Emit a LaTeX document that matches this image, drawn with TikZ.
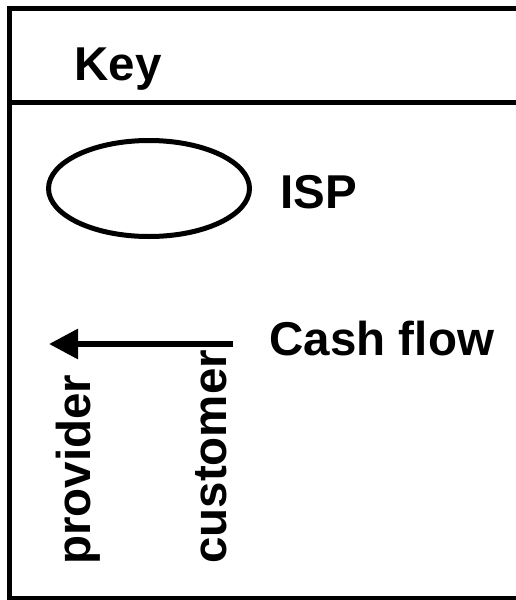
\documentclass[tikz,border=0pt]{standalone}
\usepackage{fontspec}
\setmainfont{Liberation Sans}
\usetikzlibrary{arrows.meta,shapes.geometric}
\begin{document}
\begin{tikzpicture}[x=1pt,y=-1pt,
  lbl/.style={inner sep=0pt, font=\fontsize{47.5}{50}\selectfont\bfseries},
  frame/.style={line width=5pt},
  flow/.style={line width=6pt, -{Triangle[length=29pt,width=29pt]}}]
\useasboundingbox (0,0) rectangle (516,600);
% frame
\coordinate (tr) at (530,8);
\coordinate (tl) at (9.5,8);
\coordinate (bl) at (9.5,598);
\coordinate (br) at (530,598);
\coordinate (dl) at (9.5,102.5);
\coordinate (dr) at (530,102.5);
\draw[frame] (tr) -- (tl) -- (bl) -- (br);
\draw[frame] (dl) -- (dr);
% title
\node[lbl, anchor=base west] (key) at (74.5,80) {Key};
% ISP
\node[draw, ellipse, line width=5pt, minimum width=201pt, minimum height=96pt, inner sep=0pt] (isp) at (149,188.5) {};
\node[lbl, anchor=base west] (isplbl) at (280,208) {ISP};
% cash flow
\coordinate (cust) at (233,344);
\coordinate (prov) at (49,344);
\draw[flow] (cust) -- (prov);
\node[lbl, anchor=base west] (cash) at (269.5,355) {Cash flow};
\node[lbl, anchor=base west, rotate=90] (provlbl) at (90,565) {provider};
\node[lbl, anchor=base west, rotate=90] (custlbl) at (226,564) {customer};
\end{tikzpicture}
\end{document}
